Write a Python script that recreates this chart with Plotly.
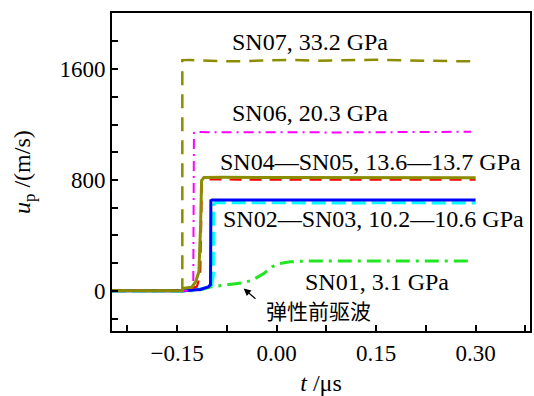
import plotly.graph_objects as go

# ---- data (t in microseconds, u_p in m/s) ----
t07 = [-0.248, -0.142, -0.142, -0.13, -0.10, -0.06, -0.02, 0.02, 0.06, 0.10, 0.15, 0.20, 0.25, 0.296]
u07 = [0, 0, 1665, 1666, 1660, 1656, 1662, 1666, 1661, 1664, 1668, 1662, 1660, 1656]

t06 = [-0.248, -0.135, -0.128, -0.1255, -0.1245, -0.122, -0.08, -0.03, 0.02, 0.08, 0.15, 0.22, 0.293]
u06 = [0, 0, 15, 60, 1140, 1146, 1144, 1142, 1145, 1143, 1146, 1144, 1148]

t05 = [-0.248, -0.14, -0.12, -0.115, -0.1125, -0.11, -0.06, 0.0, 0.10, 0.20, 0.30]
u05 = [0, 0, 30, 120, 790, 805, 803, 803, 804, 803, 802]

t04 = [-0.248, -0.142, -0.141, -0.128, -0.122, -0.117, -0.1145, -0.113, -0.1095, -0.08, -0.02, 0.05, 0.12, 0.20, 0.30]
u04 = [0, 0, 18, 25, 65, 138, 472, 796, 818, 820, 818, 817, 818, 817, 816]

t03 = [-0.248, -0.14, -0.11, -0.098, -0.0955, -0.095, -0.092, -0.05, 0.0, 0.10, 0.20, 0.30]
u03 = [0, 0, 15, 40, 100, 620, 636, 635, 636, 635, 636, 634]

t02 = [-0.248, -0.14, -0.115, -0.103, -0.0995, -0.099, -0.097, -0.05, 0.0, 0.10, 0.20, 0.30]
u02 = [0, 0, 10, 28, 45, 650, 655, 655, 656, 655, 656, 656]

t01 = [-0.248, -0.12, -0.10, -0.072, -0.052, -0.037, -0.0195, -0.007, 0.003, 0.0205, 0.048, 0.10, 0.15, 0.20, 0.25, 0.296]
u01 = [0, 0, 28, 45, 57, 76, 124, 172, 196, 209, 216, 216, 217, 216, 216, 216]

labels = ["SN07, 33.2 GPa", "SN06, 20.3 GPa", "SN04\u2014SN05, 13.6\u201413.7 GPa",
          "SN02\u2014SN03, 10.2\u201410.6 GPa", "SN01, 3.1 GPa"]
label_t = [0.050, 0.050, 0.142, 0.146, 0.152]
label_u = [1793, 1283, 932, 520, 67]

note_text = "弹性前驱波"
note_t, note_u = 0.063, -135
arrow_tip = (-0.0495, 16)
arrow_tail = (-0.0295, -67)

OLIVE = "#8c8c00"
SERIF = "Liberation Serif, Times New Roman, serif"

fig = go.Figure()

def add(t, u, color, width, dash):
    fig.add_trace(go.Scatter(x=t, y=u, mode="lines",
                             line=dict(color=color, width=width, dash=dash),
                             showlegend=False, hoverinfo="skip"))

add(t01, u01, "#22e622", 3, "14px,6px,3px,6px")
add(t03, u03, "#00ffff", 3.2, "14px,6px")
add(t02, u02, "#0000ff", 3, "solid")
add(t05, u05, "#ff0000", 2.2, "12px,8px")
add(t07, u07, OLIVE, 2.5, "14px,9px")
add(t06, u06, "#ff00ff", 2, "10px,5px,2px,5px")
add(t04, u04, OLIVE, 3, "solid")

ann = []
for txt, x, y in zip(labels, label_t, label_u):
    ann.append(dict(x=x, y=y, xref="x", yref="y", text=txt, showarrow=False,
                    font=dict(family=SERIF, size=24, color="black"),
                    xanchor="center", yanchor="middle"))
ann.append(dict(x=note_t, y=note_u, xref="x", yref="y", text=note_text, showarrow=False,
                font=dict(family="Noto Sans CJK SC", size=21, color="black"),
                xanchor="center", yanchor="middle"))
ann.append(dict(x=arrow_tip[0], y=arrow_tip[1], ax=arrow_tail[0], ay=arrow_tail[1],
                xref="x", yref="y", axref="x", ayref="y", text="", showarrow=True,
                arrowhead=2, arrowsize=1.2, arrowwidth=1.2, arrowcolor="black"))
# y axis title
ann.append(dict(x=0, y=0.5, xref="paper", yref="paper",
                text="<i>u</i><sub>p</sub> /(m/s)", textangle=-90, showarrow=False,
                font=dict(family=SERIF, size=24, color="black"),
                xanchor="center", yanchor="middle", xshift=-88))
fig.update_layout(annotations=ann)

axis_common = dict(showgrid=False, zeroline=False, showline=True, linecolor="black",
                   linewidth=2, mirror=True, ticks="inside", ticklen=6, tickwidth=1.5,
                   tickcolor="black", tickfont=dict(family=SERIF, size=23, color="black"))

fig.update_xaxes(range=[-0.248, 0.382], tick0=0, dtick=0.15, tickformat=".2f",
                 minor=dict(dtick=0.075, tick0=0, ticks="inside", ticklen=6, tickwidth=1.5, tickcolor="black"),
                 title=dict(text="<i>t</i> /\u03bcs", font=dict(family=SERIF, size=24, color="black"), standoff=12),
                 **axis_common)
fig.update_yaxes(range=[-290, 2005], tick0=0, dtick=800,
                 minor=dict(dtick=200, tick0=0, ticks="inside", ticklen=6, tickwidth=1.5, tickcolor="black"),
                 **axis_common)

fig.update_layout(width=534, height=396, margin=dict(l=112, r=2, t=13, b=63, pad=0),
                  paper_bgcolor="white", plot_bgcolor="white")

fig.write_html("out.html")
